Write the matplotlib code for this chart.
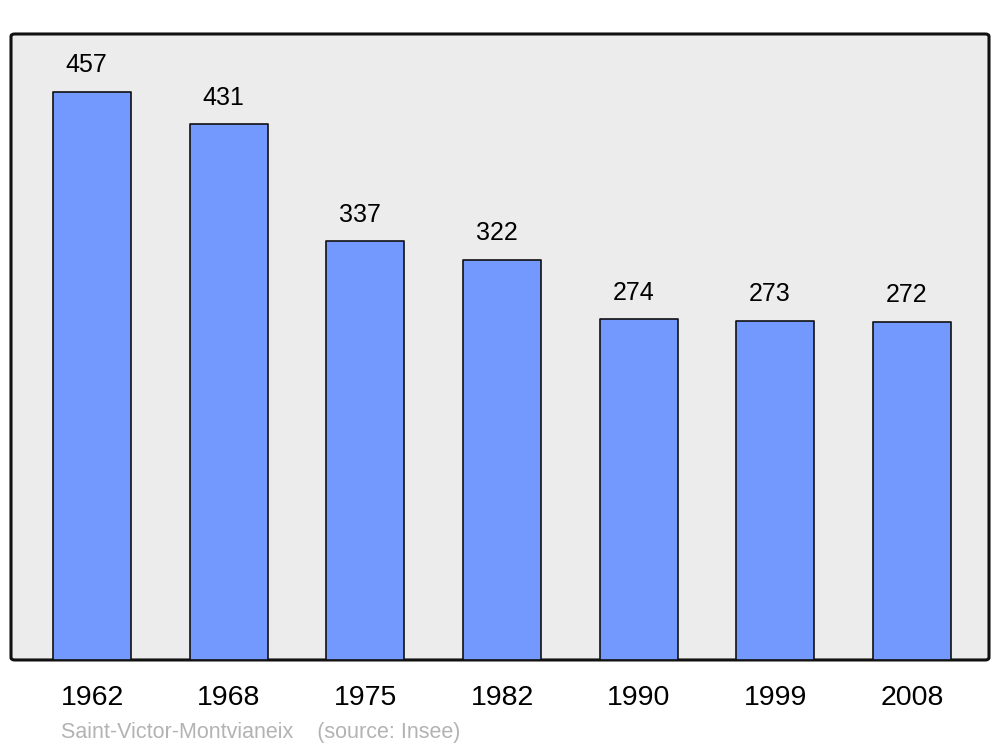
import matplotlib.pyplot as plt
from matplotlib.patches import FancyBboxPatch

years = ["1962", "1968", "1975", "1982", "1990", "1999", "2008"]
population = [457, 431, 337, 322, 274, 273, 272]

plt.rcParams['font.family'] = ['Liberation Sans', 'DejaVu Sans']

fig = plt.figure(figsize=(10, 7.47), dpi=100)
ax = fig.add_axes([0.011, 0.1165, 0.978, 0.838])
ax.set_facecolor('none')

# fond gris arrondi
frame = FancyBboxPatch((0, 0), 1, 1, boxstyle="round,pad=0,rounding_size=0.004",
                       transform=ax.transAxes, facecolor='#ececec', edgecolor='#111111',
                       linewidth=2.2, zorder=0, clip_on=False)
ax.add_patch(frame)

x = range(len(years))
bars = ax.bar(x, population, width=0.57, color='#7399ff', edgecolor='#111111',
              linewidth=1.2, zorder=2)
for b in bars:
    b.set_joinstyle('round')

for i, v in enumerate(population):
    ax.annotate(str(v), (i, v), xytext=(-4, 14), textcoords='offset points',
                ha='center', va='baseline', fontsize=18, color='black')

ax.set_xlim(-0.593, 6.563)
ax.set_ylim(0, 503.6)
ax.set_xticks(list(x))
ax.set_xticklabels(years, fontsize=20.5)
for lab in ax.get_xticklabels():
    lab.set_x(-0.012)
ax.tick_params(axis='x', length=0, pad=18)
ax.set_yticks([])
for s in ax.spines.values():
    s.set_visible(False)

fig.text(0.061, 0.012, "Saint-Victor-Montvianeix    (source: Insee)", fontsize=15.5,
         color='#b3b3b3', va='baseline')

plt.savefig('out.png', dpi=100)
